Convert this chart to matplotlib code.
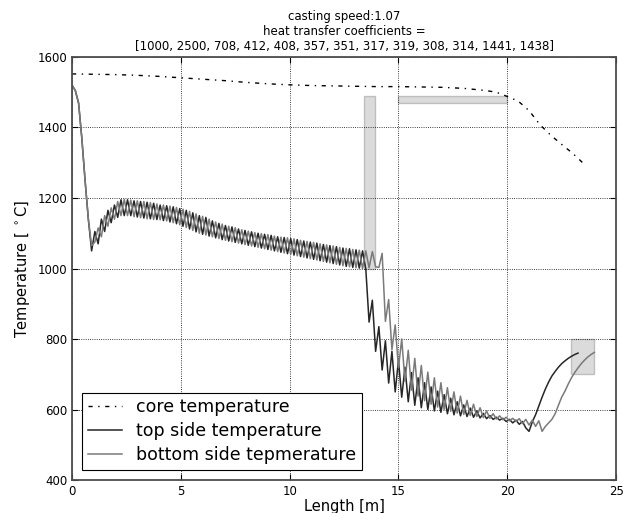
import numpy as np
import matplotlib
matplotlib.use('Agg')
import matplotlib.pyplot as plt
from matplotlib.patches import Rectangle

# grid spacing of the simulated slab [m]
dx = 0.15

top_temp = [1520, 1505, 1470, 1370, 1250, 1140, 1050, 1105, 1070, 1140,
            1105, 1165, 1130, 1180, 1145, 1195, 1150, 1195, 1150, 1192,
            1146, 1190, 1143, 1188, 1141, 1185, 1139, 1180, 1136, 1178,
            1132, 1175, 1127, 1170, 1120, 1165, 1112, 1158, 1104, 1150,
            1097, 1145, 1092, 1135, 1087, 1128, 1082, 1122, 1078, 1118,
            1074, 1112, 1070, 1108, 1066, 1104, 1062, 1100, 1058, 1097,
            1054, 1094, 1050, 1090, 1046, 1088, 1042, 1085, 1038, 1082,
            1034, 1078, 1030, 1075, 1026, 1072, 1022, 1068, 1018, 1065,
            1014, 1062, 1010, 1058, 1006, 1056, 1003, 1053, 1001, 1050,
            998, 848, 910, 765, 835, 712, 795, 675, 765, 650,
            740, 635, 720, 622, 705, 612, 690, 605, 676, 600,
            664, 596, 652, 592, 642, 588, 632, 585, 622, 582,
            613, 580, 604, 578, 596, 576, 589, 574, 583, 572,
            578, 570, 575, 566, 572, 562, 570, 558, 566, 548,
            538, 565, 585, 610, 635, 658, 678, 695, 708, 720,
            730, 738, 745, 751, 756, 760]

bottom_temp = [1520, 1505, 1470, 1370, 1250, 1140, 1065, 1075, 1115, 1090,
               1150, 1120, 1172, 1140, 1190, 1150, 1196, 1150, 1194, 1147,
               1192, 1144, 1190, 1141, 1187, 1139, 1183, 1138, 1180, 1135,
               1177, 1130, 1173, 1124, 1168, 1116, 1162, 1108, 1155, 1100,
               1148, 1095, 1140, 1090, 1132, 1085, 1126, 1080, 1120, 1076,
               1116, 1072, 1110, 1068, 1106, 1064, 1102, 1060, 1099, 1056,
               1096, 1052, 1092, 1048, 1089, 1044, 1087, 1040, 1084, 1036,
               1080, 1032, 1077, 1028, 1074, 1024, 1070, 1020, 1067, 1016,
               1064, 1012, 1060, 1008, 1057, 1005, 1054, 1002, 1052, 1000,
               1050, 1002, 1048, 1005, 1003, 1043, 850, 912, 770, 840,
               718, 800, 680, 768, 655, 745, 638, 725, 625, 706,
               615, 690, 607, 676, 600, 662, 595, 650, 590, 638,
               586, 626, 583, 615, 580, 605, 577, 596, 575, 588,
               573, 582, 571, 578, 568, 575, 566, 574, 560, 572,
               556, 570, 552, 568, 538, 552, 562, 572, 588, 612,
               635, 652, 672, 690, 705, 718, 730, 740, 749, 756,
               762]

core_x = [0, 1, 2, 3, 4, 5, 6, 7, 8, 9, 10, 11, 12, 13, 14, 15, 16, 17, 18, 19,
          19.5, 20, 20.5, 21, 21.5, 22, 22.5, 23, 23.5]
core_temp = [1552, 1551, 1550, 1548, 1545, 1541, 1537, 1533, 1528, 1524, 1521,
             1519, 1518, 1517, 1516, 1516, 1515, 1514, 1511, 1505, 1500, 1488,
             1475, 1448, 1408, 1378, 1352, 1327, 1298]

# target zones (x0, x1, T0, T1)
zones = [(13.4, 13.9, 1000, 1490), (15.0, 20.0, 1470, 1490), (22.95, 24.0, 700, 800)]

htc = [1000, 2500, 708, 412, 408, 357, 351, 317, 319, 308, 314, 1441, 1438]
speed = 1.07

top_x = np.arange(len(top_temp)) * dx
bottom_x = np.arange(len(bottom_temp)) * dx

fig = plt.figure(figsize=(6.23, 5.13), dpi=100)
ax = fig.add_axes([0.1156, 0.0643, 0.8733, 0.8246])

for z in zones:
    ax.add_patch(Rectangle((z[0], z[2]), z[1] - z[0], z[3] - z[2],
                           facecolor='0.75', edgecolor='0.6', alpha=0.55, lw=1))

ax.plot(core_x, core_temp, color='k', lw=1, linestyle=(0, (3, 4, 1, 4)),
        label='core temperature')
ax.plot(top_x, top_temp, color='0.15', lw=1.1, label='top side temperature')
ax.plot(bottom_x, bottom_temp, color='0.48', lw=1.1, label='bottom side tepmerature')

ax.set_xlim(0, 25)
ax.set_ylim(400, 1600)
ax.set_xticks([0, 5, 10, 15, 20, 25])
ax.set_yticks([400, 600, 800, 1000, 1200, 1400, 1600])
ax.grid(True, color='k', linestyle=':', lw=0.6)
ax.tick_params(direction='in', top=True, right=True, labelsize=8.5, length=4)
for s in ax.spines.values():
    s.set_color('0.3')
    s.set_linewidth(1.3)

ax.set_xlabel('Length [m]', fontsize=10.5, labelpad=1)
ax.set_ylabel('Temperature [ $^\\circ$C]', fontsize=10.5)
ax.set_title('casting speed:{}\nheat transfer coefficients =\n{}'.format(speed, htc),
             fontsize=8.5, pad=5)

leg = ax.legend(loc='lower left', fontsize=12.5, fancybox=False, framealpha=1,
                borderaxespad=0.6, borderpad=0.3, labelspacing=0.35,
                handlelength=2, edgecolor='k')
leg.get_frame().set_linewidth(0.8)

fig.savefig('out.png', dpi=100)
